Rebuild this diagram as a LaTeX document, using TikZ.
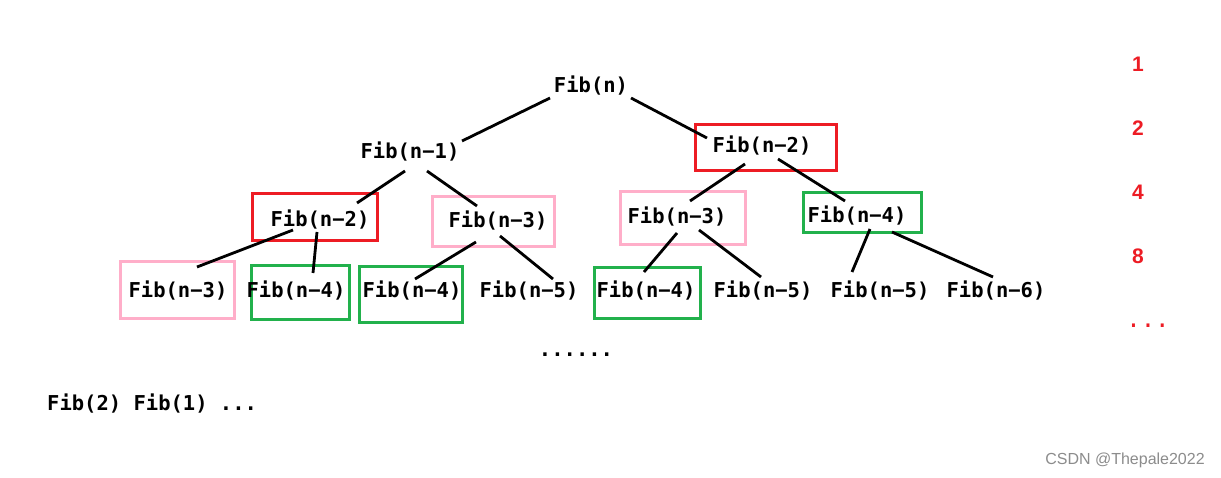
\documentclass[tikz,border=0pt]{standalone}
\usepackage{fontspec}
\setmonofont{DejaVu Sans Mono}
\setsansfont{Liberation Sans}
\usetikzlibrary{positioning}

\definecolor{boxred}{RGB}{237,28,36}
\definecolor{boxpink}{RGB}{255,174,201}
\definecolor{boxgreen}{RGB}{34,177,76}

\tikzset{
  fib/.style={font=\ttfamily\bfseries\fontsize{20.5}{24}\selectfont, inner sep=0pt},
  level/.style={font=\sffamily\bfseries\fontsize{21}{24}\selectfont, text=boxred, inner sep=0pt},
  edge/.style={line width=2.8pt},
  redbox/.style={draw=boxred, line width=2.8pt, inner sep=0pt},
  pinkbox/.style={draw=boxpink, line width=2.8pt, inner sep=0pt},
  greenbox/.style={draw=boxgreen, line width=2.8pt, inner sep=0pt}
}

\begin{document}
\begin{tikzpicture}[x=1pt,y=-1pt]

\fill[white] (0,0) rectangle (1221,478);
\useasboundingbox (0,0) rectangle (1221,478);

% boxes
\node[redbox, minimum width=141pt, minimum height=46pt] (b1) at (766,147.5) {};
\node[redbox, minimum width=125pt, minimum height=47pt] (b2) at (315,217) {};
\node[pinkbox, minimum width=122pt, minimum height=50pt] (b3) at (493.5,221.5) {};
\node[pinkbox, minimum width=125pt, minimum height=53pt] (b4) at (683,218) {};
\node[greenbox, minimum width=118pt, minimum height=40pt] (b5) at (862.5,212.5) {};
\node[pinkbox, minimum width=114pt, minimum height=57pt] (b6) at (177.5,290) {};
\node[greenbox, minimum width=98pt, minimum height=54pt] (b7) at (300.5,292.5) {};
\node[greenbox, minimum width=103pt, minimum height=56pt] (b8) at (411,294.5) {};
\node[greenbox, minimum width=106pt, minimum height=51pt] (b9) at (647.5,293) {};

% tree
\node[fib] (fn) at (591,86) {Fib(n)};
\node[fib] (fn1) at (410,152) {Fib(n−1)};
\node[fib] (fn2) at (762,146) {Fib(n−2)};

\node[fib] (l3a) at (320,220) {Fib(n−2)};
\node[fib] (l3b) at (498,221) {Fib(n−3)};
\node[fib] (l3c) at (677,217) {Fib(n−3)};
\node[fib] (l3d) at (857,216) {Fib(n−4)};

\node[fib] (l4a) at (178,291) {Fib(n−3)};
\node[fib] (l4b) at (296,291) {Fib(n−4)};
\node[fib] (l4c) at (412,291) {Fib(n−4)};
\node[fib] (l4d) at (529,291) {Fib(n−5)};
\node[fib] (l4e) at (646,291) {Fib(n−4)};
\node[fib] (l4f) at (763,291) {Fib(n−5)};
\node[fib] (l4g) at (880,291) {Fib(n−5)};
\node[fib] (l4h) at (996,291) {Fib(n−6)};

\node[fib, anchor=base] (more) at (576,356) {......};
\node[fib, anchor=west] (leaves) at (47,404) {Fib(2) Fib(1) ...};

% edges
\draw[edge] ([shift={(-41,12)}]fn.center) -- ([shift={(52,-11)}]fn1.center);
\draw[edge] ([shift={(40,12)}]fn.center) -- ([shift={(-55,-8)}]fn2.center);
\draw[edge] ([shift={(-5,19)}]fn1.center) -- ([shift={(37,-17)}]l3a.center);
\draw[edge] ([shift={(17,19)}]fn1.center) -- ([shift={(-21,-15)}]l3b.center);
\draw[edge] ([shift={(-17,18)}]fn2.center) -- ([shift={(13,-16)}]l3c.center);
\draw[edge] ([shift={(16,13)}]fn2.center) -- ([shift={(-12,-15)}]l3d.center);
\draw[edge] ([shift={(-27,10)}]l3a.center) -- ([shift={(19,-24)}]l4a.center);
\draw[edge] ([shift={(-3,12)}]l3a.center) -- ([shift={(17,-18)}]l4b.center);
\draw[edge] ([shift={(-22,21)}]l3b.center) -- ([shift={(3,-12)}]l4c.center);
\draw[edge] ([shift={(2,15)}]l3b.center) -- ([shift={(24,-12)}]l4d.center);
\draw[edge] ([shift={(0,16)}]l3c.center) -- ([shift={(-2,-19)}]l4e.center);
\draw[edge] ([shift={(22,13)}]l3c.center) -- ([shift={(-2,-14)}]l4f.center);
\draw[edge] ([shift={(13,13)}]l3d.center) -- ([shift={(-28,-19)}]l4g.center);
\draw[edge] ([shift={(35,16)}]l3d.center) -- ([shift={(-3,-14)}]l4h.center);

% calls per level
\node[level] (n1) at (1138,64) {1};
\node[level] (n2) at (1138,128) {2};
\node[level] (n4) at (1138,192) {4};
\node[level] (n8) at (1138,256) {8};
\node[inner sep=0pt, text=boxred, font=\ttfamily\fontsize{24}{26}\selectfont, anchor=base] (ndots) at (1148,328) {...};

\node[font=\sffamily\fontsize{16}{18}\selectfont, text=black!45, inner sep=0pt] (mark) at (1125,460) {CSDN @Thepale2022};

\end{tikzpicture}
\end{document}
